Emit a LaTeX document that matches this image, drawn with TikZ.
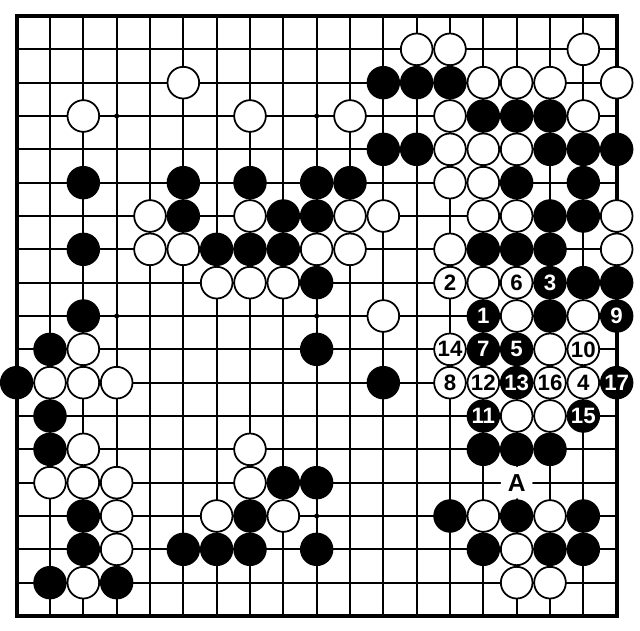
\documentclass[tikz,border=0pt]{standalone}
\usepackage{fontspec}
\setmainfont{Liberation Sans}
\usepackage{xcolor}
\usepackage{tikz}
\usetikzlibrary{positioning}
\definecolor{linecolor}{RGB}{0,0,0}
\definecolor{blackstonecolor}{RGB}{0,0,0}
\definecolor{whitestonecolor}{RGB}{255,255,255}

\begin{document}
\begin{tikzpicture}[
    x=1cm, y=1cm,
    gridline/.style={line width=1.5pt, draw=linecolor},
    boardedge/.style={line width=3.4pt, draw=linecolor},
    hoshi/.style={circle, fill=linecolor, minimum size=0.15cm, inner sep=0pt},
    blackstone/.style={circle, draw=black, fill=blackstonecolor, line width=1.5pt, minimum size=0.95cm, inner sep=0pt, text=white, font=\fontsize{19}{19}\selectfont\bfseries},
    whitestone/.style={circle, draw=black, fill=whitestonecolor, line width=1.5pt, minimum size=0.95cm, inner sep=0pt, text=black, font=\fontsize{19}{19}\selectfont\bfseries},
    marker/.style={circle, fill=white, minimum size=0.95cm, inner sep=0pt, font=\fontsize{21}{21}\selectfont\bfseries}
]
    \useasboundingbox (-0.5,0.48) rectangle (18.7,-18.42);

    % Board
    \draw[gridline] (0,0) grid (18,-18);
    \draw[boardedge] (0,0) rectangle (18,-18);
    \foreach \c in {3,9,15}
        \foreach \r in {3,9,15}
            \node[hoshi] (h\c-\r) at (\c,-\r) {};

    % Black stones
    \foreach \c/\r in {11/2,12/2,13/2, 14/3,15/3,16/3, 11/4,12/4,16/4,17/4,18/4,
        2/5,5/5,7/5,9/5,10/5,15/5,17/5, 5/6,8/6,9/6,16/6,17/6,
        2/7,6/7,7/7,8/7,14/7,15/7,16/7, 9/8,17/8,18/8, 2/9,16/9,
        1/10,9/10, 0/11,11/11, 1/12, 1/13,14/13,15/13,16/13, 8/14,9/14,
        2/15,7/15,13/15,15/15,17/15, 2/16,5/16,6/16,7/16,9/16,14/16,16/16,17/16,
        1/17,3/17}
        \node[blackstone] (b\c-\r) at (\c,-\r) {};

    % White stones
    \foreach \c/\r in {12/1,13/1,17/1, 5/2,14/2,15/2,16/2,18/2, 2/3,7/3,10/3,13/3,17/3,
        13/4,14/4,15/4, 13/5,14/5, 4/6,7/6,10/6,11/6,14/6,15/6,18/6,
        4/7,5/7,9/7,10/7,13/7,18/7, 6/8,7/8,8/8,14/8, 11/9,15/9,17/9,
        2/10,16/10, 1/11,2/11,3/11, 15/12,16/12, 2/13,7/13,
        1/14,2/14,3/14,7/14, 3/15,6/15,8/15,14/15,16/15, 3/16,15/16,
        2/17,15/17,16/17}
        \node[whitestone] (w\c-\r) at (\c,-\r) {};

    % Numbered moves
    \node[blackstone] (m1) at (14,-9) {1};
    \node[whitestone] (m2) at (13,-8) {2};
    \node[blackstone] (m3) at (16,-8) {3};
    \node[whitestone] (m4) at (17,-11) {4};
    \node[blackstone] (m5) at (15,-10) {5};
    \node[whitestone] (m6) at (15,-8) {6};
    \node[blackstone] (m7) at (14,-10) {7};
    \node[whitestone] (m8) at (13,-11) {8};
    \node[blackstone] (m9) at (18,-9) {9};
    \node[whitestone] (m10) at (17,-10) {10};
    \node[blackstone] (m11) at (14,-12) {11};
    \node[whitestone] (m12) at (14,-11) {12};
    \node[blackstone] (m13) at (15,-11) {13};
    \node[whitestone] (m14) at (13,-10) {14};
    \node[blackstone] (m15) at (17,-12) {15};
    \node[whitestone] (m16) at (16,-11) {16};
    \node[blackstone] (m17) at (18,-11) {17};

    % Point A
    \node[marker] (pointA) at (15,-14) {A};
\end{tikzpicture}
\end{document}
